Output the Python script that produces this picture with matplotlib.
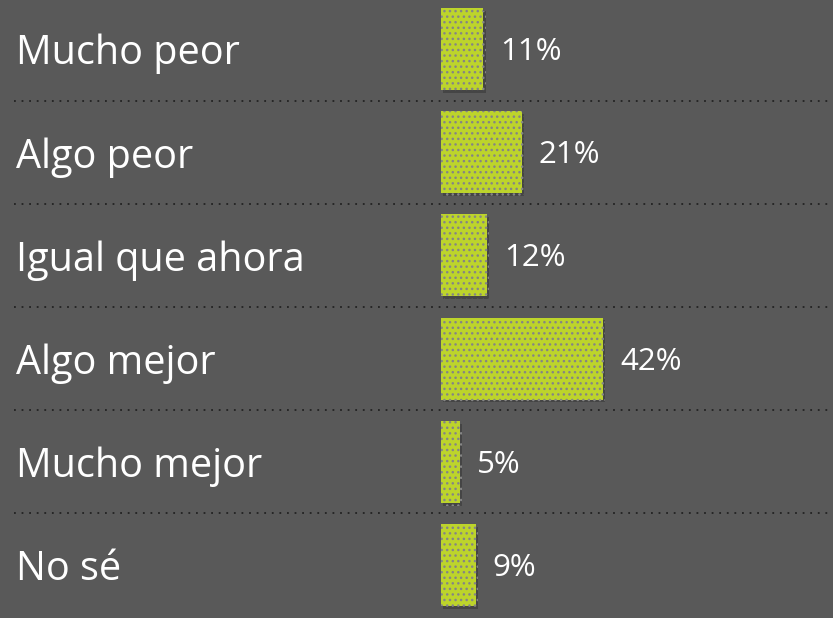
import matplotlib
matplotlib.use("Agg")
import matplotlib.pyplot as plt
import matplotlib.patheffects as pe
from matplotlib.transforms import blended_transform_factory, offset_copy

# ---------------------------
# Data
# ---------------------------
categories = ["Mucho peor", "Algo peor", "Igual que ahora", "Algo mejor", "Mucho mejor", "No sé"]
values = [11, 21, 12, 42, 5, 9]
value_labels = ["11%", "21%", "12%", "42%", "5%", "9%"]

# ---------------------------
# Style
# ---------------------------
BG = "#595959"
BAR = "#bdd42b"
DOTS = "#858585"
plt.rcParams["font.family"] = ["Open Sans", "DejaVu Sans"]
plt.rcParams["hatch.linewidth"] = 1.0

W, H = 833, 618
PX_PER_PCT = 162 / 42
BAR_X0 = 441

fig = plt.figure(figsize=(W / 100, H / 100), dpi=100)
fig.patch.set_facecolor(BG)
ax = fig.add_axes([0, 0, 1, 1])
ax.set_facecolor(BG)
ax.set_xlim(-BAR_X0 / PX_PER_PCT, (W - BAR_X0) / PX_PER_PCT)
pitch = 103.2
ax.set_ylim((H - 49) / pitch, -49 / pitch)
ax.axis("off")

ys = list(range(len(categories)))
bars = ax.barh(ys, values, height=82 / pitch, color=BAR, edgecolor=DOTS,
               linewidth=0, hatch="...")
for b in bars:
    b.set_path_effects([pe.SimplePatchShadow(offset=(1.5, -2), shadow_rgbFace="black", alpha=0.22),
                        pe.Normal()])

# separators
lab_tr = blended_transform_factory(ax.transAxes, ax.transData)
for i in range(len(categories) - 1):
    ax.plot([14 / W, 1], [i + 0.5, i + 0.5], transform=lab_tr, color="#222222",
            linestyle=(0, (1, 3.2)), linewidth=1.3)

# labels
val_tr = offset_copy(ax.transData, fig=fig, x=12.2, y=0, units="points")
for y, cat, v, lab in zip(ys, categories, values, value_labels):
    ax.text(16 / W, y + 0.05, cat, transform=lab_tr, color="white", fontsize=28.5,
            ha="left", va="center")
    ax.text(v, y + 0.03, lab, transform=val_tr, color="white", fontsize=22.5,
            ha="left", va="center")

fig.savefig("out.png", dpi=100, facecolor=BG)
